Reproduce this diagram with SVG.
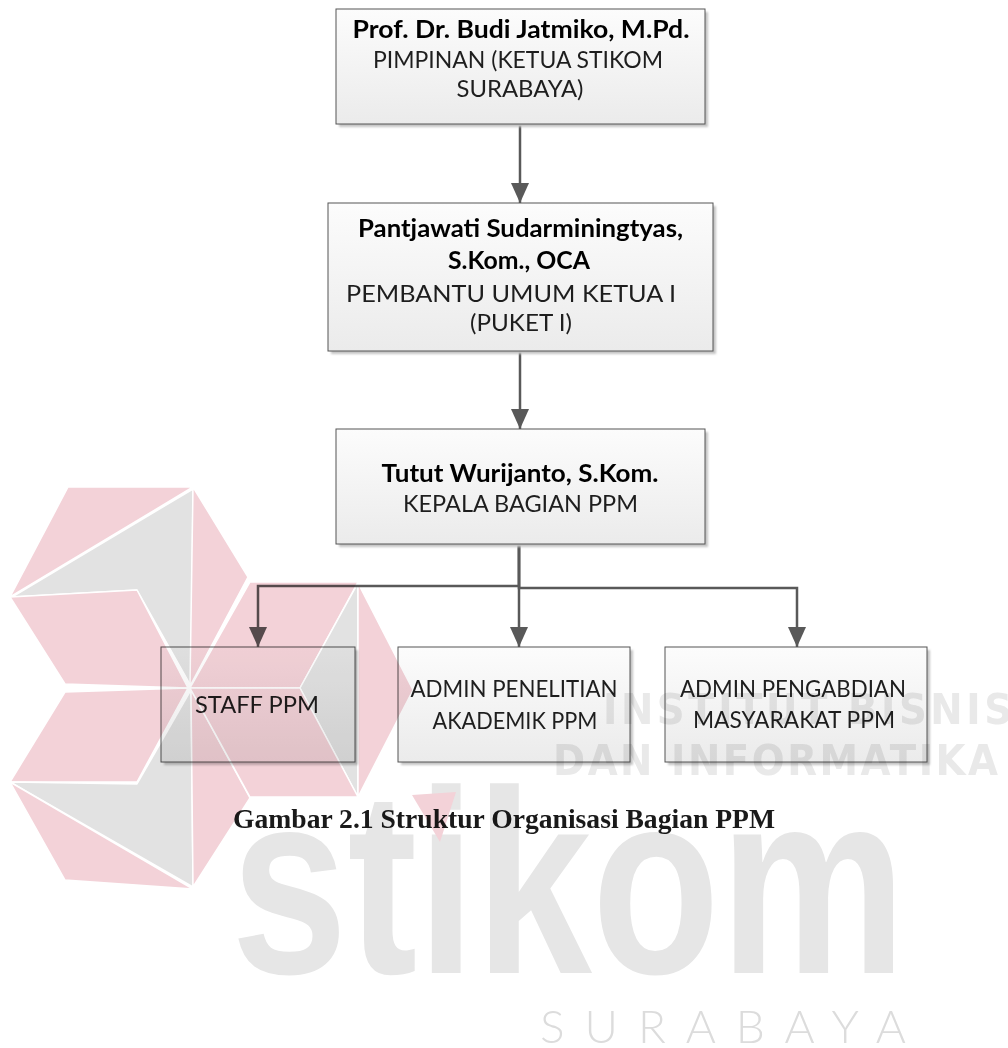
<svg xmlns="http://www.w3.org/2000/svg" width="1008" height="1048" viewBox="0 0 1008 1048">
<defs>
  <linearGradient id="boxfill" x1="0" y1="0" x2="0" y2="1">
    <stop offset="0" stop-color="#fcfcfc"/>
    <stop offset="1" stop-color="#ebebeb"/>
  </linearGradient>
  <filter id="sh" x="-10%" y="-10%" width="120%" height="120%">
    <feGaussianBlur stdDeviation="1.2"/>
  </filter>
  <marker id="arr" viewBox="0 0 20 18" refX="20" refY="9" markerWidth="20" markerHeight="18" markerUnits="userSpaceOnUse" orient="auto">
    <path d="M0,0 L20,9 L0,18 Z" fill="#595959"/>
  </marker>
</defs>
<style>
  .shadow{fill:#c4c4c4;filter:url(#sh)}
  .box{fill:url(#boxfill);stroke:#555555;stroke-width:1}
  .b{font-family:"Lato","Open Sans","Liberation Sans",sans-serif;font-weight:bold;font-size:24px;fill:#000000;text-anchor:middle}
  .r{font-family:"Lato","Open Sans","Liberation Sans",sans-serif;font-weight:normal;font-size:24px;fill:#1e1e1e;text-anchor:middle}
  .conn{fill:none;stroke:#595959;stroke-width:2.5;marker-end:url(#arr)}
  .wm{mix-blend-mode:multiply}
  .pk{fill:#f3d2d8;stroke:#ffffff;stroke-width:1.5;stroke-linejoin:round}
  .gy{fill:#e2e2e2;stroke:#ffffff;stroke-width:1.5;stroke-linejoin:round}
  .wt{fill:#e9e9e9;font-family:"Liberation Sans Narrow","DejaVu Sans Condensed","Liberation Sans",sans-serif;font-weight:bold}
</style>
<rect x="0" y="0" width="1008" height="1048" fill="#ffffff"/>

<g id="connectors">
  <path class="conn" d="M520,124 V203"/>
  <path class="conn" d="M520,352 V429"/>
  <path class="conn" d="M519,544 V647"/>
  <path class="conn" d="M519,544 V586 H258 V647"/>
  <path class="conn" d="M519,544 V588 H797 V647"/>
</g>

<g id="node-pimpinan">
  <rect class="shadow" x="339" y="12" width="369" height="115"/>
  <rect class="box" x="336" y="9" width="369" height="115"/>
  <text class="b" x="521" y="38" textLength="337" lengthAdjust="spacingAndGlyphs">Prof. Dr. Budi Jatmiko, M.Pd.</text>
  <text class="r" x="518" y="68" textLength="290" lengthAdjust="spacingAndGlyphs">PIMPINAN (KETUA STIKOM</text>
  <text class="r" x="520" y="97" textLength="127" lengthAdjust="spacingAndGlyphs">SURABAYA)</text>
</g>

<g id="node-puket">
  <rect class="shadow" x="331" y="206" width="385" height="148"/>
  <rect class="box" x="328" y="203" width="385" height="148"/>
  <text class="b" x="520.5" y="237" textLength="325" lengthAdjust="spacingAndGlyphs">Pantjawati Sudarminingtyas,</text>
  <text class="b" x="519" y="269" textLength="142" lengthAdjust="spacingAndGlyphs">S.Kom., OCA</text>
  <text class="r" x="511" y="302" textLength="330" lengthAdjust="spacingAndGlyphs">PEMBANTU UMUM KETUA I</text>
  <text class="r" x="521" y="331" textLength="102" lengthAdjust="spacingAndGlyphs">(PUKET I)</text>
</g>

<g id="node-kabag">
  <rect class="shadow" x="339" y="432" width="369" height="115"/>
  <rect class="box" x="336" y="429" width="369" height="115"/>
  <text class="b" x="520" y="482" textLength="277" lengthAdjust="spacingAndGlyphs">Tutut Wurijanto, S.Kom.</text>
  <text class="r" x="520.5" y="512" textLength="235" lengthAdjust="spacingAndGlyphs">KEPALA BAGIAN PPM</text>
</g>

<g id="node-staff">
  <rect class="shadow" x="164" y="650" width="194" height="115"/>
  <rect class="box" x="161" y="647" width="194" height="115"/>
  <text class="r" x="257" y="713" textLength="124" lengthAdjust="spacingAndGlyphs">STAFF PPM</text>
</g>

<g id="node-admin-penelitian">
  <rect class="shadow" x="401" y="650" width="232" height="115"/>
  <rect class="box" x="398" y="647" width="232" height="115"/>
  <text class="r" x="514" y="697" textLength="207" lengthAdjust="spacingAndGlyphs">ADMIN PENELITIAN</text>
  <text class="r" x="515" y="729" textLength="165" lengthAdjust="spacingAndGlyphs">AKADEMIK PPM</text>
</g>

<g id="node-admin-pengabdian">
  <rect class="shadow" x="668" y="650" width="262" height="115"/>
  <rect class="box" x="665" y="647" width="262" height="115"/>
  <text class="r" x="793" y="697" textLength="226" lengthAdjust="spacingAndGlyphs">ADMIN PENGABDIAN</text>
  <text class="r" x="794" y="728" textLength="202" lengthAdjust="spacingAndGlyphs">MASYARAKAT PPM</text>
</g>

<text id="caption" x="233" y="828" font-family="'Liberation Serif','Times New Roman',serif" font-weight="bold" font-size="27" fill="#1a1a1a" textLength="542" lengthAdjust="spacingAndGlyphs">Gambar 2.1 Struktur Organisasi Bagian PPM</text>

<g id="watermark" class="wm">
  <polygon class="pk" points="68,487 193,487 10,597"/>
  <polygon class="gy" points="12,597 193,489 191,686 137,590"/>
  <polygon class="pk" points="193,487 248,577 190,686"/>
  <polygon class="pk" points="10,597 137,590 188,688 65,684"/>
  <polygon class="pk" points="65,692 188,688 137,782 10,782"/>
  <polygon class="gy" points="10,782 137,784 191,690 193,887"/>
  <polygon class="pk" points="191,690 250,798 193,887"/>
  <polygon class="pk" points="10,782 193,889 65,880"/>
  <polygon class="pk" points="250,582 358,582 300,688 190,688"/>
  <polygon class="gy" points="358,583 300,688 358,797"/>
  <polygon class="pk" points="190,688 300,688 358,797 250,797"/>
  <polygon class="pk" points="358,583 413,690 358,797"/>
  <text x="231" y="973" font-family="'Liberation Sans',Arial,sans-serif" font-weight="bold" font-size="262" fill="#e6e6e6" textLength="675" lengthAdjust="spacingAndGlyphs">stikom</text>
  <polygon fill="#f3d2d8" points="412,795 456,792 440,842"/>
  <text class="wt" x="603" y="724" font-size="43" textLength="409" lengthAdjust="spacing">INSTITUT BISNIS</text>
  <text class="wt" x="553" y="775" font-size="43" textLength="445" lengthAdjust="spacing">DAN INFORMATIKA</text>
  <text x="540" y="1043" font-family="Lato,'Liberation Sans',sans-serif" font-weight="300" font-size="46" fill="#dcdcdc" textLength="366" lengthAdjust="spacing">SURABAYA</text>
</g>
</svg>
